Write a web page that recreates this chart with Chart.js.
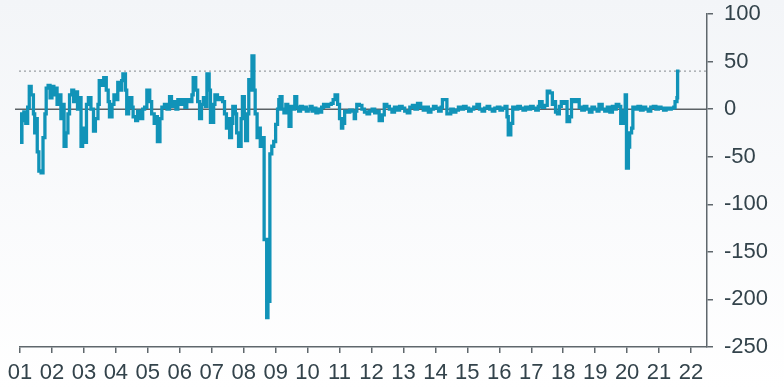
<!DOCTYPE html>
<html lang="en">
<head>
<meta charset="UTF-8">
<title>Spread chart</title>
<script src="https://cdn.jsdelivr.net/npm/chart.js"></script>
<style>
  html, body { margin: 0; padding: 0; }
  body { width: 784px; height: 389px; background: linear-gradient(#f3f5f8, #ffffff); overflow: hidden; }
  canvas { display: block; }
</style>
</head>
<body>
<canvas id="chart" width="784" height="389"></canvas>
<script>
// dates as decimal years, each value holds until the next date
const dates = [
  2001.00, 2001.03, 2001.06, 2001.12, 2001.18, 2001.24, 2001.29, 2001.35, 2001.42, 2001.46, 2001.50, 2001.54, 2001.59, 2001.66, 2001.72, 2001.78, 2001.82, 2001.88, 2001.94,
  2002.00, 2002.06, 2002.12, 2002.16, 2002.22, 2002.28, 2002.34, 2002.38, 2002.44, 2002.50, 2002.55, 2002.62, 2002.68, 2002.74, 2002.80, 2002.86, 2002.91, 2002.96,
  2003.02, 2003.08, 2003.14, 2003.22, 2003.30, 2003.36, 2003.44, 2003.48, 2003.56, 2003.62, 2003.70, 2003.76, 2003.80, 2003.88, 2003.94,
  2004.00, 2004.06, 2004.12, 2004.18, 2004.22, 2004.30, 2004.34, 2004.40, 2004.44, 2004.50, 2004.54, 2004.62, 2004.68, 2004.76, 2004.84, 2004.90, 2004.97,
  2005.06, 2005.12, 2005.20, 2005.26, 2005.30, 2005.38, 2005.44, 2005.52, 2005.60, 2005.68, 2005.74, 2005.80, 2005.88, 2005.94,
  2006.02, 2006.10, 2006.16, 2006.22, 2006.30, 2006.38, 2006.42, 2006.50, 2006.56, 2006.62, 2006.68, 2006.74, 2006.80, 2006.85, 2006.92, 2006.96,
  2007.06, 2007.10, 2007.18, 2007.26, 2007.34, 2007.40, 2007.46, 2007.52, 2007.56, 2007.62, 2007.66, 2007.74, 2007.78, 2007.84, 2007.92, 2007.96,
  2008.02, 2008.06, 2008.12, 2008.16, 2008.22, 2008.26, 2008.32, 2008.36, 2008.42, 2008.48, 2008.52, 2008.60, 2008.64, 2008.72, 2008.76, 2008.82, 2008.88, 2008.94,
  2009.00, 2009.06, 2009.10, 2009.14, 2009.20, 2009.26, 2009.32, 2009.38, 2009.42, 2009.48, 2009.54, 2009.60, 2009.66, 2009.72, 2009.78, 2009.84, 2009.90, 2009.96,
  2010.02, 2010.08, 2010.14, 2010.20, 2010.26, 2010.32, 2010.38, 2010.44, 2010.50, 2010.58, 2010.66, 2010.74, 2010.80, 2010.86, 2010.94,
  2011.00, 2011.06, 2011.10, 2011.16, 2011.24, 2011.32, 2011.40, 2011.46, 2011.50, 2011.54, 2011.62, 2011.70, 2011.78, 2011.86, 2011.94,
  2012.02, 2012.10, 2012.18, 2012.24, 2012.34, 2012.40, 2012.48, 2012.56, 2012.64, 2012.72, 2012.80, 2012.88, 2012.96,
  2013.04, 2013.12, 2013.20, 2013.28, 2013.36, 2013.44, 2013.54, 2013.62, 2013.70, 2013.78, 2013.86, 2013.94,
  2014.02, 2014.10, 2014.18, 2014.22, 2014.36, 2014.48, 2014.56, 2014.64, 2014.72, 2014.80, 2014.88, 2014.96,
  2015.04, 2015.12, 2015.20, 2015.30, 2015.38, 2015.46, 2015.54, 2015.62, 2015.70, 2015.78, 2015.86, 2015.94,
  2016.02, 2016.10, 2016.18, 2016.24, 2016.28, 2016.36, 2016.42, 2016.50, 2016.58, 2016.66, 2016.74, 2016.82, 2016.90, 2016.98,
  2017.06, 2017.14, 2017.22, 2017.26, 2017.34, 2017.42, 2017.50, 2017.58, 2017.66, 2017.70, 2017.76, 2017.82, 2017.88, 2017.94,
  2018.02, 2018.08, 2018.12, 2018.20, 2018.26, 2018.36, 2018.44, 2018.50, 2018.58, 2018.66, 2018.74, 2018.82, 2018.90, 2018.98,
  2019.06, 2019.12, 2019.22, 2019.30, 2019.38, 2019.46, 2019.54, 2019.62, 2019.66, 2019.74, 2019.80, 2019.90, 2019.94, 2019.98,
  2020.04, 2020.08, 2020.14, 2020.18, 2020.26, 2020.34, 2020.42, 2020.50, 2020.58, 2020.66, 2020.74, 2020.82, 2020.90, 2020.98,
  2021.06, 2021.14, 2021.22, 2021.30, 2021.38, 2021.46, 2021.50, 2021.56, 2021.58, 2021.64
];
const values = [
  -5, -35, -12, -3, -15, 2, 24, 15, -5, -25, -10, -45, -65, -67, -30, -5, 22, 25, 12,
  24, 15, 22, 5, 15, -10, 5, -39, -25, -5, 15, 20, 8, 18, 0, 12, -39, -20,
  -35, 5, 12, 0, -23, -10, 5, 30, 25, 33, 20, 8, -8, 5, 15,
  10, 28, 20, 30, 37, 20, -5, 5, 12, 2, -8, -12, -2, -10, 0, 2, 20,
  8, -5, -15, -8, -34, -10, 2, 5, 0, 13, 3, 8, 0, 10,
  5, 10, 2, 10, 8, 15, 33, 20, 8, -10, 5, 12, 3, 37, 20, -14,
  5, 15, 10, 12, 8, -5, -20, -10, -30, -15, 3, -5, -25, -39, -10, 13,
  -10, -33, -5, 31, 20, 56, 20, -5, -30, -20, -39, -30, -137, -219, -202, -47, -39, -34,
  -16, 0, 10, 13, 0, -4, 5, 2, -18, 3, 0, 13, 2, -2, 3, 0, 2, -2,
  0, 3, -2, 1, -4, 0, -3, 2, 5, 3, 5, 6, 10, 15, 5,
  -10, -20, -15, -2, -3, -1, -2, -10, -2, 5, 4, 0, -3, -5, -2,
  0, -4, -2, -12, -6, 5, 3, 0, -3, 2, -1, 3, 1,
  -2, -4, 2, 4, 0, 6, 2, -1, 2, -3, 0, 3,
  1, -2, 2, 10, -5, 0, -3, -1, 2, 0, 3, 1,
  -2, 0, 2, 5, 0, -2, 1, 3, 0, -2, 1, 2,
  -1, 1, 3, -8, -27, -15, 2, 0, 3, 1, -1, 2, 0, 3,
  1, -1, 3, 8, 2, 4, 19, 17, 5, 8, -3, -5, 3, 8,
  6, 8, -13, -8, 10, 8, 10, 2, -1, 3, 0, -3, 2, 0,
  -2, 5, 0, -2, 2, -3, 3, 0, 5, 3, -15, -2, 15, -62,
  -40, -25, -20, 2, 0, 3, -1, 2, 0, -2, 2, 3, 0, 2,
  1, -1, 1, 0, 1, 2, 8, 12, 40, 40
];
const yTicks = [-250, -200, -150, -100, -50, 0, 50, 100];
const yearTicks = [2001, 2002, 2003, 2004, 2005, 2006, 2007, 2008, 2009, 2010, 2011,
  2012, 2013, 2014, 2015, 2016, 2017, 2018, 2019, 2020, 2021, 2022];
const capLine = 40;

const textColor = '#33434b';
const axisColor = '#5f676c';

// zero line and dotted cap line, drawn under the series
const refLines = {
  id: 'refLines',
  beforeDatasetsDraw(chart) {
    const { ctx, chartArea, scales } = chart;
    const y0 = scales.y.getPixelForValue(0);
    const yc = scales.y.getPixelForValue(capLine);
    ctx.save();
    ctx.strokeStyle = '#9aa0a4';
    ctx.lineWidth = 1.2;
    ctx.setLineDash([2, 3]);
    ctx.beginPath();
    ctx.moveTo(chartArea.left - 1, yc);
    ctx.lineTo(chartArea.right, yc);
    ctx.stroke();
    ctx.setLineDash([]);
    ctx.strokeStyle = '#5c6266';
    ctx.lineWidth = 1.5;
    ctx.beginPath();
    ctx.moveTo(chartArea.left - 5, y0);
    ctx.lineTo(chartArea.right, y0);
    ctx.stroke();
    ctx.restore();
  }
};

new Chart(document.getElementById('chart'), {
  type: 'line',
  data: {
    datasets: [{
      data: dates.map((d, i) => ({ x: d, y: values[i] })),
      borderColor: '#1193b8',
      borderWidth: 3.3,
      pointRadius: 0,
      stepped: true,
      fill: false
    }]
  },
  options: {
    responsive: false,
    animation: false,
    layout: { padding: { left: 20, top: 14, right: 0, bottom: 0 } },
    plugins: { legend: { display: false }, tooltip: { enabled: false } },
    scales: {
      x: {
        type: 'linear',
        min: 2001,
        max: 2022.5,
        afterBuildTicks: s => { s.ticks = yearTicks.map(v => ({ value: v })); },
        afterFit: s => { s.height = 42; },
        ticks: {
          color: textColor,
          font: { family: 'Liberation Sans, Arial, sans-serif', size: 22 },
          padding: 7,
          maxRotation: 0,
          autoSkip: false,
          callback: v => String(v % 100).padStart(2, '0')
        },
        grid: { drawOnChartArea: false, tickLength: 6, color: axisColor, lineWidth: 1.5 },
        border: { color: axisColor, width: 1.5 }
      },
      y: {
        position: 'right',
        min: -250,
        max: 100,
        afterBuildTicks: s => { s.ticks = yTicks.map(v => ({ value: v })); },
        afterFit: s => { s.width = 77; s.paddingTop = 0; s.paddingBottom = 0; },
        ticks: {
          color: textColor,
          font: { family: 'Liberation Sans, Arial, sans-serif', size: 22 },
          padding: 11
        },
        grid: { drawOnChartArea: false, tickLength: 6, color: axisColor, lineWidth: 1.5 },
        border: { color: axisColor, width: 1.5 }
      }
    }
  },
  plugins: [refLines]
});
</script>
</body>
</html>
